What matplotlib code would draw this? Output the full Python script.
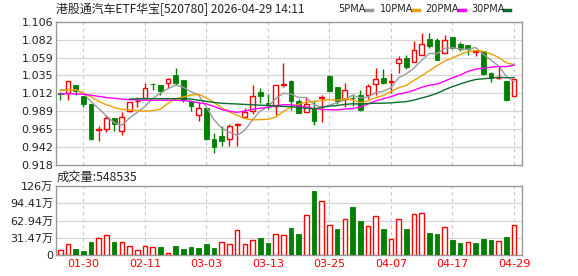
import numpy as np
import pandas as pd
import matplotlib
matplotlib.use("Agg")
import matplotlib.pyplot as plt
from matplotlib.patches import Rectangle
from matplotlib.lines import Line2D

# ---------------- data ----------------
opens = [1.0125, 1.0125, 1.0225, 1.0082, 0.9980, 0.9645, 0.9656, 0.9797, 0.9630, 0.9890,
         1.0015, 1.0055, 1.0245, 1.0225, 1.0252, 1.0356, 1.0295, 1.0020, 0.9836, 0.9925,
         0.9520, 0.9557, 0.9526, 0.9705, 0.9810, 0.9884, 1.0138, 0.9995, 0.9951, 1.0228,
         1.0278, 1.0024, 0.9870, 0.9928, 1.0060, 1.0351, 1.0199, 1.0046, 1.0065, 1.0094,
         1.0094, 1.0247, 1.0322, 1.0275, 1.0514, 1.0584, 1.0527, 1.0619, 1.0837, 1.0816,
         1.0650, 1.0855, 1.0767, 1.0750, 1.0660, 1.0672, 1.0387, 1.0318, 1.0286, 1.0080]
highs = [1.0140, 1.0278, 1.0225, 1.0090, 0.9985, 0.9687, 0.9830, 0.9800, 0.9870, 1.0010,
         1.0070, 1.0255, 1.0250, 1.0225, 1.0317, 1.0448, 1.0295, 1.0020, 1.0002, 0.9935,
         0.9600, 0.9688, 0.9718, 0.9725, 0.9928, 1.0233, 1.0190, 1.0110, 1.0225, 1.0514,
         1.0299, 1.0052, 1.0077, 1.0038, 1.0094, 1.0356, 1.0199, 1.0251, 1.0114, 1.0164,
         1.0242, 1.0453, 1.0440, 1.0387, 1.0606, 1.0619, 1.0803, 1.0912, 1.0912, 1.0850,
         1.0883, 1.0855, 1.0790, 1.0750, 1.0675, 1.0672, 1.0396, 1.0475, 1.0286, 1.0308]
lows = [1.0030, 1.0030, 1.0104, 0.9937, 0.9510, 0.9490, 0.9610, 0.9620, 0.9570, 0.9880,
        0.9940, 1.0040, 1.0160, 1.0100, 1.0186, 1.0230, 1.0002, 0.9890, 0.9760, 0.9510,
        0.9340, 0.9433, 0.9433, 0.9433, 0.9796, 0.9850, 0.9993, 0.9920, 0.9836, 1.0204,
        0.9905, 0.9862, 0.9870, 0.9710, 0.9744, 1.0142, 0.9985, 0.9935, 0.9960, 0.9890,
        1.0040, 1.0102, 1.0243, 1.0125, 1.0387, 1.0444, 1.0527, 1.0619, 1.0710, 1.0553,
        1.0650, 1.0700, 1.0670, 1.0620, 1.0605, 1.0358, 1.0265, 1.0313, 1.0017, 1.0080]
closes = [1.0115, 1.0278, 1.0155, 0.9984, 0.9525, 0.9655, 0.9800, 0.9718, 0.9806, 1.0000,
          1.0025, 1.0185, 1.0238, 1.0155, 1.0306, 1.0252, 1.0042, 0.9954, 0.9924, 0.9520,
          0.9420, 0.9500, 0.9688, 0.9715, 0.9870, 1.0089, 1.0081, 0.9980, 1.0225, 1.0238,
          1.0024, 0.9862, 0.9980, 0.9753, 1.0070, 1.0155, 1.0024, 1.0168, 1.0055, 0.9905,
          1.0212, 1.0308, 1.0256, 1.0285, 1.0570, 1.0462, 1.0685, 1.0767, 1.0737, 1.0553,
          1.0816, 1.0715, 1.0700, 1.0705, 1.0670, 1.0378, 1.0322, 1.0325, 1.0030, 1.0308]
volumes = [9.1, 19.5, 11.0, 7.3, 23.7, 30.4, 35.9, 23.7, 23.1, 15.8,
           9.1, 15.8, 14.0, 14.0, 3.0, 16.4, 11.0, 14.0, 12.8, 19.5,
           12.8, 23.1, 19.5, 45.0, 19.5, 27.4, 31.0, 21.9, 37.7, 36.5,
           48.7, 38.3, 72.4, 116.9, 98.6, 54.2, 47.5, 65.1, 87.7, 62.1,
           52.3, 70.6, 47.5, 29.2, 65.1, 47.5, 74.3, 76.1, 40.2, 38.3,
           50.5, 27.4, 21.9, 23.1, 21.9, 29.2, 27.4, 25.0, 32.9, 54.85]

# moving-average values before the window is full
ma5_head = [1.0165, 1.0172, 1.0165, 1.0120]
ma10_head = [1.0155, 1.0168, 1.0165, 1.0125, 1.0075, 1.0015, 0.9970, 0.9935, 0.9910]
ma20_head = [1.0115, 1.0115, 1.0112, 1.0108, 1.0095, 1.0080, 1.0065, 1.0055, 1.0045, 1.0038,
             1.0033, 1.0030, 1.0030, 1.0030, 1.0030, 1.0030, 1.0025, 1.0015, 0.9995]
ma30_head = [np.nan] * 9 + [1.0045, 1.0048, 1.0050, 1.0050, 1.0050, 1.0050, 1.0050, 1.0050,
                            1.0045, 1.0030, 1.0015, 1.0000, 0.9990, 0.9985, 0.9980, 0.9975,
                            0.9970, 0.9965, 0.9960, 0.9955]

date_labels = ["01-30", "02-11", "03-03", "03-13", "03-25", "04-07", "04-17", "04-29"]
price_labels = ["0.918", "0.942", "0.965", "0.989", "1.012", "1.035", "1.059", "1.082", "1.106"]
vol_labels = ["0", "31.47万", "62.94万", "94.41万", "126万"]
title_text = "港股通汽车ETF华宝[520780] 2026-04-29 14:11"
vol_text = "成交量:548535"
legend_names = ["5PMA", "10PMA", "20PMA", "30PMA"]

# ---------------- style ----------------
plt.rcParams["font.family"] = ["DejaVu Sans", "Noto Sans CJK SC"]
RED = "#ff0000"
GREEN = "#008000"
MA_COLORS = ["#9a9a9a", "#f0a000", "#ff00ff", "#0b6b30"]
FRAME = "#999999"
GRID = "#d6d6d6"

W, H = 578, 276
fig = plt.figure(figsize=(W / 100, H / 100), dpi=100)
fig.patch.set_facecolor("white")

def fx(px):
    return px / W

def fy(py):
    return 1 - py / H

L, R = 56, 522
ax = fig.add_axes([fx(L), fy(165), fx(R - L), (165 - 21.7) / H])
axv = fig.add_axes([fx(L), fy(255), fx(R - L), (255 - 186) / H])

n = len(closes)
x = np.arange(n)
xlim = (-0.56, 60.04)
ymin, ymax = 0.918, 1.106
tick_pos = [3 + 8 * k for k in range(len(date_labels))]

# moving averages
s = pd.Series(closes)
mas = []
for win, head in zip([5, 10, 20, 30], [ma5_head, ma10_head, ma20_head, ma30_head]):
    m = s.rolling(win).mean().to_numpy()
    m[:len(head)] = head
    mas.append(m)

for a in (ax, axv):
    a.set_xlim(*xlim)
    for sp in a.spines.values():
        sp.set_color(FRAME)
        sp.set_linewidth(1.0)
    a.tick_params(axis="both", length=0, labelsize=8, colors="#222222")
    a.set_facecolor("white")
    for t in tick_pos:
        a.axvline(t, color="#c8c8c8", lw=0.8, ls=(0, (3, 3)), zorder=0)

# price grid
ax.set_ylim(ymin, ymax)
pticks = np.linspace(ymin, ymax, len(price_labels))
ax.set_yticks(pticks)
ax.set_yticklabels(price_labels)
for v in pticks[1:-1]:
    ax.axhline(v, color=GRID, lw=0.9, zorder=0)
ax.set_xticks([])
ax.tick_params(axis="y", pad=2)

# candles
w = 0.62
for i in range(n):
    o, h, l, c = opens[i], highs[i], lows[i], closes[i]
    if c >= o:
        col = RED
        ax.vlines(i, l, o, color=col, lw=1.0, zorder=2)
        ax.vlines(i, c, h, color=col, lw=1.0, zorder=2)
        ax.add_patch(Rectangle((i - w / 2, o), w, max(c - o, 0.0002), facecolor="white",
                               edgecolor=col, lw=1.0, zorder=3))
    else:
        col = GREEN
        ax.vlines(i, l, h, color=col, lw=1.0, zorder=2)
        ax.add_patch(Rectangle((i - w / 2, c), w, max(o - c, 0.0002), facecolor=col,
                               edgecolor=col, lw=0.6, zorder=3))

for m, colr in zip(mas, MA_COLORS):
    ax.plot(x, m, color=colr, lw=1.0, zorder=4)

# volume panel
vmax = 126
axv.set_ylim(0, vmax)
vticks = np.linspace(0, vmax, len(vol_labels))
axv.set_yticks(vticks)
axv.set_yticklabels(vol_labels)
for v in vticks[1:-1]:
    axv.axhline(v, color=GRID, lw=0.9, zorder=0)
axv.tick_params(axis="y", pad=2)
up = [True] + [closes[i] >= closes[i - 1] for i in range(1, n)]
for i in range(n):
    if up[i]:
        axv.add_patch(Rectangle((i - 0.3, 0), 0.6, volumes[i], facecolor="white",
                                edgecolor=RED, lw=1.0, zorder=3))
    else:
        axv.add_patch(Rectangle((i - 0.3, 0), 0.6, volumes[i], facecolor=GREEN,
                                edgecolor=GREEN, lw=0.6, zorder=3))
axv.set_xticks(tick_pos)
axv.set_xticklabels(date_labels, color=RED, fontsize=8)
axv.tick_params(axis="x", pad=3, colors=RED)

# texts
fig.text(fx(56), fy(9.5), title_text, fontsize=8.6, va="center", ha="left",
         family=["Noto Sans CJK SC", "DejaVu Sans"], color="#222222")
fig.text(fx(57), fy(177.5), vol_text, fontsize=8.8, va="center", ha="left",
         family=["Noto Sans CJK SC", "DejaVu Sans"], color="#222222")

legend_x = [338, 380, 425, 471]
marker_x = [369, 416, 462, 507]
for name, lx, mx, colr in zip(legend_names, legend_x, marker_x, MA_COLORS):
    fig.text(fx(lx), fy(9.5), name, fontsize=7, va="center", ha="left", color="#222222")
    fig.add_artist(Line2D([fx(mx - 3), fx(mx + 3)], [fy(9.5), fy(9.5)], color=colr, lw=2.5,
                          transform=fig.transFigure))

fig.savefig("out.png", dpi=100, facecolor="white")
